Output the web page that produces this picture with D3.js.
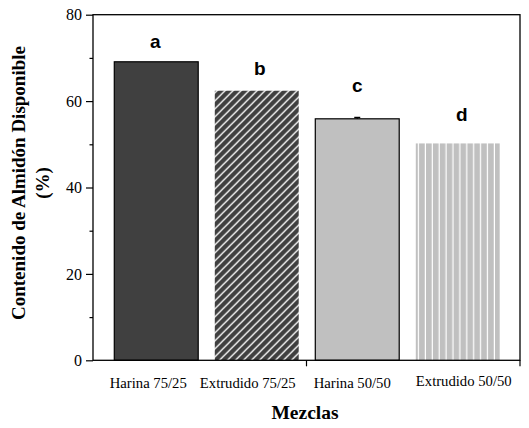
<!DOCTYPE html>
<html>
<head>
<meta charset="utf-8">
<script src="https://cdn.jsdelivr.net/npm/d3@7"></script>
<style>
  body { margin: 0; background: #fff; }
  svg { display: block; }
</style>
</head>
<body>
<svg id="chart" width="529" height="428"></svg>
<script>
// data
var categories = ["Harina 75/25", "Extrudido 75/25", "Harina 50/50", "Extrudido 50/50"];
var values = [69.1, 62.4, 55.9, 50.2];
var errors = [0, 0, 0.3, 0];
var letters = ["a", "b", "c", "d"];
var letterLevels = [72.3, 66.1, 62.0, 55.3];
var yTicks = [0, 20, 40, 60, 80];
var yMinorTicks = [10, 30, 50, 70];

var svg = d3.select("#chart");
var margin = {top: 14.7, right: 9, bottom: 67.7, left: 93},
    width = 529 - margin.left - margin.right,
    height = 428 - margin.top - margin.bottom;

var x = d3.scaleBand()
    .domain(categories)
    .range([13, 415])
    .paddingInner(0.165)
    .paddingOuter(0.0825);
var y = d3.scaleLinear().domain([0, 80]).range([height, 0]);

// fill patterns
var defs = svg.append("defs");
var hatch = defs.append("pattern")
    .attr("id", "hatch")
    .attr("patternUnits", "userSpaceOnUse")
    .attr("width", 8).attr("height", 8);
hatch.append("rect").attr("width", 8).attr("height", 8).attr("fill", "#404040");
hatch.append("path")
    .attr("d", "M-2,2 L2,-2 M0,8 L8,0 M6,10 L10,6")
    .attr("stroke", "#fff").attr("stroke-width", 1.3);

var stripes = defs.append("pattern")
    .attr("id", "stripes")
    .attr("patternUnits", "userSpaceOnUse")
    .attr("x", margin.left + x(categories[3]))
    .attr("width", 6.9).attr("height", 10);
stripes.append("rect").attr("width", 6.9).attr("height", 10).attr("fill", "#c0c0c0");
stripes.append("rect").attr("x", 5.7).attr("width", 1.3).attr("height", 10).attr("fill", "#fff");

var fills = ["#404040", "url(#hatch)", "#c0c0c0", "url(#stripes)"];
var strokes = ["#000", "none", "#000", "none"];

var g = svg.append("g")
    .attr("transform", "translate(" + margin.left + "," + margin.top + ")");

// bars
g.selectAll(".bar")
  .data(values)
  .enter().append("rect")
    .attr("class", "bar")
    .attr("x", function(d, i) { return x(categories[i]); })
    .attr("y", function(d) { return y(d); })
    .attr("width", x.bandwidth())
    .attr("height", function(d) { return height - y(d); })
    .attr("fill", function(d, i) { return fills[i]; })
    .attr("stroke", function(d, i) { return strokes[i]; })
    .attr("stroke-width", 1.2);

// error bars
values.forEach(function(v, i) {
  if (!errors[i]) return;
  var cx = x(categories[i]) + x.bandwidth() / 2;
  g.append("line")
      .attr("x1", cx).attr("x2", cx)
      .attr("y1", y(v)).attr("y2", y(v + errors[i]))
      .attr("stroke", "#000").attr("stroke-width", 1.2);
  g.append("line")
      .attr("x1", cx - 3).attr("x2", cx + 3)
      .attr("y1", y(v + errors[i])).attr("y2", y(v + errors[i]))
      .attr("stroke", "#000").attr("stroke-width", 1.5);
});

// significance letters
var letterDx = [-1, 3, 0, 4];
g.selectAll(".letter")
  .data(letters)
  .enter().append("text")
    .attr("class", "letter")
    .attr("x", function(d, i) { return x(categories[i]) + x.bandwidth() / 2 + letterDx[i]; })
    .attr("y", function(d, i) { return y(letterLevels[i]); })
    .attr("text-anchor", "middle")
    .style("font-family", "'Liberation Sans', Arial, sans-serif")
    .style("font-weight", "bold")
    .style("font-size", "19px")
    .text(function(d) { return d; });

// frame
g.append("rect")
    .attr("width", width).attr("height", height)
    .attr("fill", "none").attr("stroke", "#000").attr("stroke-width", 1.3);

// y axis
var yAxis = g.append("g")
    .call(d3.axisLeft(y).tickValues(yTicks).tickSize(7).tickPadding(4));
yAxis.select(".domain").remove();
yAxis.selectAll("line").attr("stroke-width", 1.2);
yAxis.selectAll("text")
    .style("font-family", "'Liberation Serif', 'Times New Roman', serif")
    .style("font-size", "16px")
    .attr("fill", "#000");
g.append("g")
    .call(d3.axisLeft(y).tickValues(yMinorTicks).tickSize(3.5).tickFormat(""))
  .call(function(s) { s.select(".domain").remove(); })
  .selectAll("line").attr("stroke-width", 1.2);

// x axis: one middle tick plus category labels
g.append("line")
    .attr("x1", width / 2).attr("x2", width / 2)
    .attr("y1", height).attr("y2", height + 6)
    .attr("stroke", "#000").attr("stroke-width", 1.2);
g.append("line")
    .attr("x1", width).attr("x2", width)
    .attr("y1", height).attr("y2", height + 6)
    .attr("stroke", "#000").attr("stroke-width", 1.2);

var labelDx = [-8, -9, -5, 6];
var labelDy = [0, 0, 0, -2];
var xAxis = g.append("g")
    .attr("transform", "translate(0," + height + ")")
    .call(d3.axisBottom(x).tickSize(0).tickPadding(0));
xAxis.select(".domain").remove();
xAxis.selectAll("text")
    .attr("y", 0)
    .attr("dy", 0)
    .attr("transform", function(d, i) { return "translate(" + labelDx[i] + "," + (27.7 + labelDy[i]) + ")"; })
    .attr("fill", "#000")
    .style("font-family", "'Liberation Serif', 'Times New Roman', serif")
    .style("font-size", "14.7px");

// axis titles
svg.append("text")
    .attr("x", 305).attr("y", 419)
    .attr("text-anchor", "middle")
    .style("font-family", "'Liberation Serif', 'Times New Roman', serif")
    .style("font-weight", "bold")
    .style("font-size", "19.5px")
    .text("Mezclas");

var yTitle = svg.append("text")
    .attr("transform", "translate(24.5,183) rotate(-90)")
    .attr("text-anchor", "middle")
    .style("font-family", "'Liberation Serif', 'Times New Roman', serif")
    .style("font-weight", "bold")
    .style("font-size", "19px");
yTitle.append("tspan").attr("x", 0).attr("y", 0).text("Contenido de Almidón Disponible");
yTitle.append("tspan").attr("x", 0).attr("y", 24.5).text("(%)");
</script>
</body>
</html>
